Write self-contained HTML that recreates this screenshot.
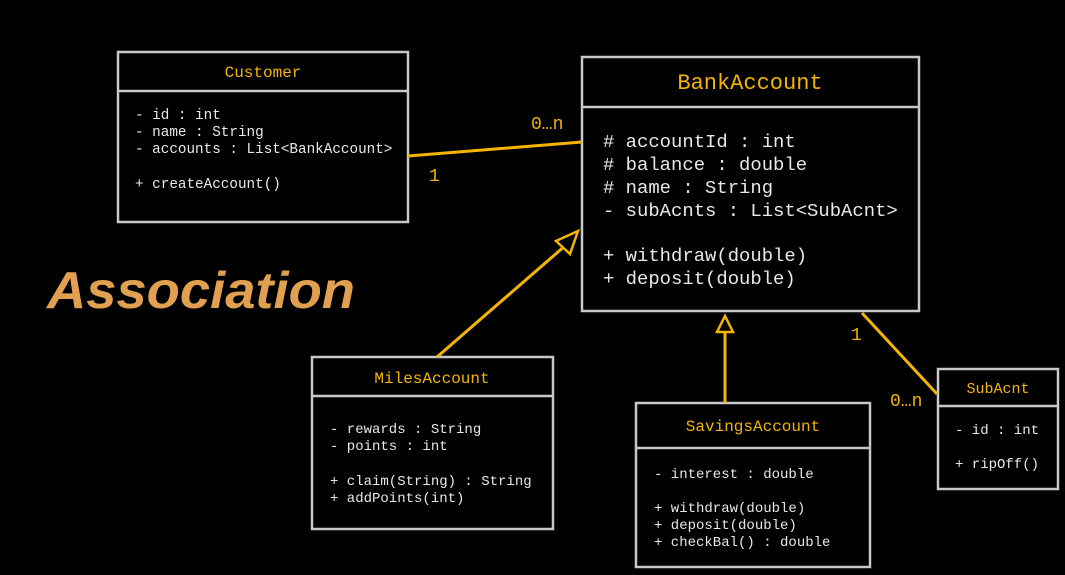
<!DOCTYPE html>
<html><head><meta charset="utf-8"><style>
html,body{margin:0;padding:0;background:#000;}
svg{display:block}
.m{font-family:"Liberation Mono",monospace;}
</style></head><body>
<svg width="1065" height="575" viewBox="0 0 1065 575" xmlns="http://www.w3.org/2000/svg">
<rect width="1065" height="575" fill="#000"/>
<g fill="none" stroke="#c8c8c8" stroke-width="2.5">
<rect x="118" y="52" width="290" height="170"/><line x1="118" y1="91" x2="408" y2="91"/>
<rect x="582" y="57" width="337" height="254"/><line x1="582" y1="107" x2="919" y2="107"/>
<rect x="312" y="357" width="241" height="172"/><line x1="312" y1="396" x2="553" y2="396"/>
<rect x="636" y="403" width="234" height="164"/><line x1="636" y1="448" x2="870" y2="448"/>
<rect x="938" y="369" width="120" height="120"/><line x1="938" y1="406" x2="1058" y2="406"/>
</g>
<g stroke="#f5b400" stroke-width="3" fill="none">
<line x1="408" y1="156" x2="582" y2="142"/>
<line x1="437" y1="357" x2="566" y2="245"/>
<polygon points="578,231 556,241 570,254" stroke-width="2.5" fill="#000"/>
<line x1="725" y1="403" x2="725" y2="332"/>
<polygon points="725,316 717,332 733,332" stroke-width="2.5" fill="#000"/>
<line x1="862" y1="313" x2="937" y2="394"/>
</g>
<g class="m" fill="#f5b400" font-size="18">
<text x="531" y="129">0…n</text>
<text x="429" y="181">1</text>
<text x="851" y="340">1</text>
<text x="890" y="406">0…n</text>
</g>
<g class="m" fill="#f5b400" text-anchor="middle">
<text x="263" y="77" font-size="16">Customer</text>
<text x="750" y="89" font-size="22">BankAccount</text>
<text x="432" y="383" font-size="16">MilesAccount</text>
<text x="753" y="431" font-size="16">SavingsAccount</text>
<text x="998" y="393" font-size="15">SubAcnt</text>
</g>
<g class="m" fill="#e8e8e8" font-size="14.3">
<text x="135" y="119">- id : int</text>
<text x="135" y="136">- name : String</text>
<text x="135" y="153">- accounts : List&lt;BankAccount&gt;</text>
<text x="135" y="188">+ createAccount()</text>
</g>
<g class="m" fill="#e8e8e8" font-size="18.9">
<text x="603" y="147">#&#160;accountId : int</text>
<text x="603" y="170">#&#160;balance : double</text>
<text x="603" y="193">#&#160;name : String</text>
<text x="603" y="216">- subAcnts : List&lt;SubAcnt&gt;</text>
<text x="603" y="261">+ withdraw(double)</text>
<text x="603" y="284">+ deposit(double)</text>
</g>
<g class="m" fill="#e8e8e8" font-size="14">
<text x="330" y="433">- rewards : String</text>
<text x="330" y="450">- points : int</text>
<text x="330" y="485">+ claim(String) : String</text>
<text x="330" y="502">+ addPoints(int)</text>
<text x="654" y="478">- interest : double</text>
<text x="654" y="512">+ withdraw(double)</text>
<text x="654" y="529">+ deposit(double)</text>
<text x="654" y="546">+ checkBal() : double</text>
<text x="955" y="434">- id : int</text>
<text x="955" y="468">+ ripOff()</text>
</g>
<text x="47" y="308" fill="#e0a050" style="font-family:'Liberation Sans',sans-serif;font-size:52px;font-weight:bold;font-style:italic" textLength="308" lengthAdjust="spacingAndGlyphs">Association</text>
</svg>
</body></html>
